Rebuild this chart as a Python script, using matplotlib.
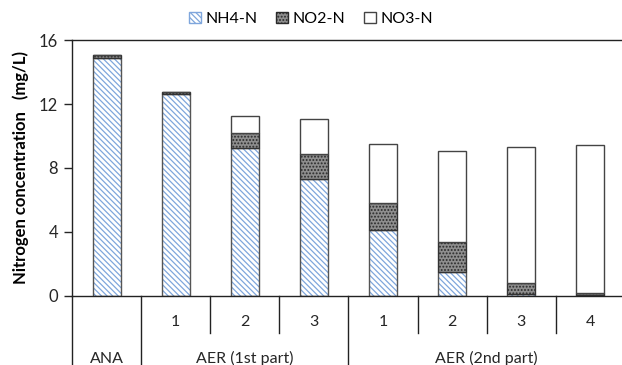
import numpy as np
import matplotlib.pyplot as plt
from matplotlib.patches import Patch
import matplotlib.transforms as mtrans

plt.rcParams['font.family'] = ['Lato', 'DejaVu Sans']
plt.rcParams['hatch.linewidth'] = 0.9

# data (mg/L)
stage_labels = ['', '1', '2', '3', '1', '2', '3', '4']
group_labels = ['ANA', 'AER (1st part)', 'AER (2nd part)']
group_sizes = [1, 3, 4]
nh4 = [14.87, 12.62, 9.23, 7.32, 4.13, 1.46, 0.10, 0.03]
no2 = [0.20, 0.12, 0.97, 1.53, 1.69, 1.92, 0.71, 0.10]
no3 = [0.02, 0.00, 1.05, 2.20, 3.67, 5.69, 8.53, 9.29]

x = np.arange(len(nh4))
nh4 = np.array(nh4)
no2 = np.array(no2)
no3 = np.array(no3)

fig = plt.figure(figsize=(6.22, 3.65), dpi=100)
ax = fig.add_axes([72/622, 0.1904, 552.8/622, 0.6992])

w = 0.405
edge = '#555555'
blue = '#7fa6dc'
hatch_nh4 = '\\\\\\\\\\\\'
# NH4 hatched bars
ax.bar(x, nh4, w, color='white', edgecolor=blue, hatch=hatch_nh4, linewidth=0)
ax.bar(x, nh4, w, fill=False, edgecolor=edge, linewidth=1)
# NO2 dotted bars
ax.bar(x, no2, w, bottom=nh4, color='#8e8e8e', edgecolor='#2a2a2a', hatch='.....', linewidth=0)
ax.bar(x, no2, w, bottom=nh4, fill=False, edgecolor='#333333', linewidth=1)
# NO3 white bars
ax.bar(x, no3, w, bottom=nh4 + no2, color='white', edgecolor='#444444', linewidth=1)

ax.set_xlim(-0.5, 7.5)
ax.set_ylim(0, 16)
ax.set_yticks([0, 4, 8, 12, 16])
ax.tick_params(axis='y', direction='out', length=6, width=1, labelsize=12, colors='#262626', pad=4)
ax.set_xticks([])
ax.spines['right'].set_visible(False)
for s in ['left', 'bottom', 'top']:
    ax.spines[s].set_color('#222222')
    ax.spines[s].set_linewidth(1)

ax.set_ylabel('Nitrogen concentration   (mg/L)', fontsize=12, fontweight='bold', labelpad=7)

# category table below the axis
tr = mtrans.blended_transform_factory(ax.transData, ax.transAxes)
full_edges = list(np.cumsum([0] + group_sizes) - 0.5)
for b in np.arange(-0.5, 7.5, 1.0):
    y_end = -0.28 if b in full_edges else -0.147
    ax.plot([b, b], [0, y_end], color='#222222', lw=1, transform=tr, clip_on=False)
for xi, lab in zip(x, stage_labels):
    ax.text(xi, -0.104, lab, transform=tr, ha='center', va='center', fontsize=11.5, color='#262626')
start = 0
for lab, n in zip(group_labels, group_sizes):
    ax.text(start + (n - 1) / 2, -0.247, lab, transform=tr, ha='center', va='center',
            fontsize=11.5, color='#262626')
    start += n

handles = [Patch(facecolor='white', edgecolor=blue, hatch=hatch_nh4, linewidth=1),
           Patch(facecolor='#8e8e8e', edgecolor='#2a2a2a', hatch='.....', linewidth=1),
           Patch(facecolor='white', edgecolor='#444444', linewidth=1)]
leg = fig.legend(handles, ['NH4-N', 'NO2-N', 'NO3-N'], loc='center', bbox_to_anchor=(0.5, 0.948),
                 ncol=3, frameon=False, fontsize=11.5, handlelength=0.75, handleheight=0.75,
                 handletextpad=0.25, columnspacing=1.2)

fig.savefig('out.png', dpi=100)
